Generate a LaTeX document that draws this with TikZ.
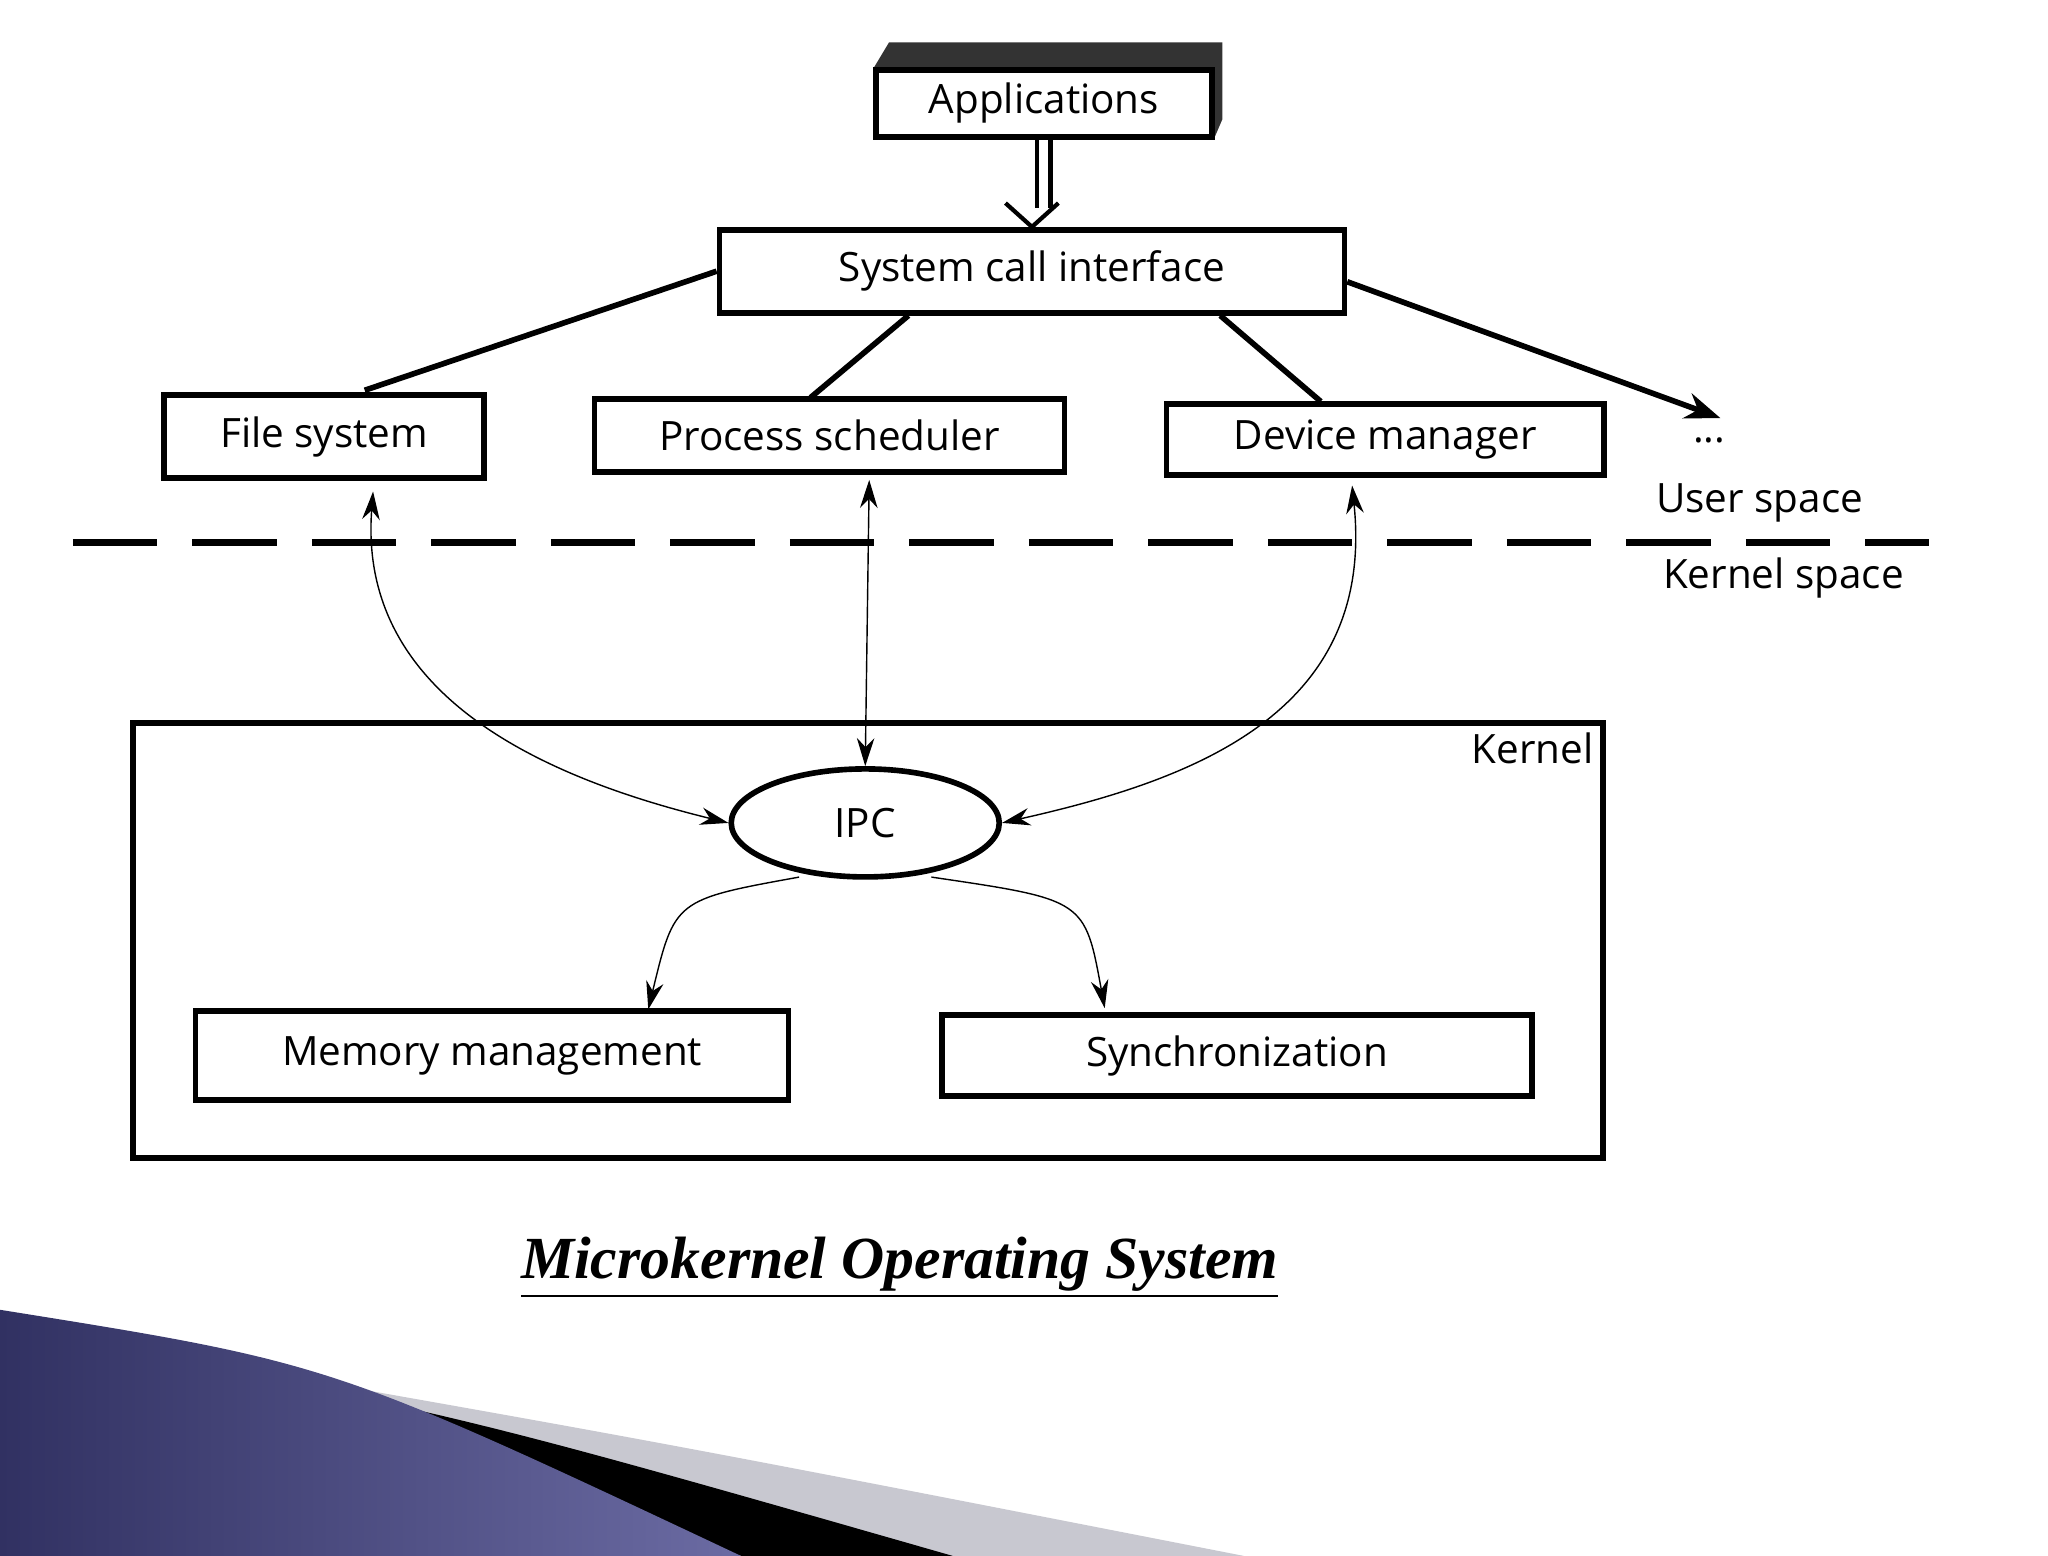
\documentclass[tikz,border=0pt]{standalone}
\usepackage{fontspec}
\setmainfont{Open Sans}
\newfontfamily\titlefont{Liberation Serif}
\usetikzlibrary{arrows.meta,shapes.geometric}
\definecolor{swooshblue}{RGB}{70,70,140}
\definecolor{swooshgray}{RGB}{200,200,208}
\begin{document}
\begin{tikzpicture}[x=0.01323cm,y=-0.01323cm,font=\fontsize{11.5}{14}\selectfont,
	box/.style={draw,line width=1.6pt,inner sep=0pt},
	link/.style={line width=1.6pt},
	ipc/.style={{Stealth[length=8pt,width=5pt]}-{Stealth[length=8pt,width=5pt]},thin}]
	\useasboundingbox (0,0) rectangle (1548,1176);
	% slide decoration
	\fill[swooshgray] (130,1025) .. controls (500,1090) .. (940,1176) -- (600,1176) -- cycle;
	\fill[black] (40,1010) .. controls (350,1070) .. (720,1176) -- (560,1176) -- cycle;
	\shade[left color=swooshblue!70!black,right color=swooshblue!80] (0,990) .. controls (250,1030) .. (560,1176) -- (0,1176) -- cycle;
	% applications
	\fill[black!80] (660,52) -- (672,32) -- (924,32) -- (924,90) -- (918,104) -- (918,52) -- cycle;
	\node[box,minimum width=3.36cm,minimum height=0.67cm] (app) at (789,78) {Applications};
	\node[box,minimum width=6.25cm,minimum height=0.83cm] (sci) at (780,205) {System call interface};
	\node[box,minimum width=3.2cm,minimum height=0.83cm] (fs) at (245,330) {File system};
	\node[box,minimum width=4.7cm,minimum height=0.73cm] (ps) at (627,329) {Process scheduler};
	\node[box,minimum width=4.37cm,minimum height=0.71cm] (dm) at (1047,332) {Device manager};
	\node (dots) at (1292,333) {...};
	\node (us) at (1330,380) {User space};
	\node (ks) at (1348,437) {Kernel space};
	\draw[line width=2pt,dash pattern=on 24pt off 10pt] (55,410) -- (1458,410);
	% kernel
	\node[box,minimum width=14.7cm,minimum height=4.35cm] (kernel) at (656,711) {};
	\node[anchor=north east] (klabel) at (kernel.north east) {Kernel};
	\node[box,ellipse,minimum width=2.68cm,minimum height=1.08cm] (ipc) at (654,622) {IPC};
	\node[box,minimum width=5.93cm,minimum height=0.89cm] (mm) at (372,798) {Memory management};
	\node[box,minimum width=5.9cm,minimum height=0.81cm] (sync) at (935,798) {Synchronization};
	% connectors
	\draw[line width=1.2pt] (app.south) ++(-5,0) -- ++(0,52) (app.south) ++(5,0) -- ++(0,52);
	\draw[line width=1.2pt] (sci.north) ++(-20,-18) -- (sci.north) -- ++(20,-18);
	\draw[link] (sci.west) -- ++(-266,90);
	\draw[link] (sci.south west) ++(145,0) -- ++(-74,62);
	\draw[link] (sci.south east) ++(-96,0) -- ++(76,65);
	\draw[link,-{Stealth[length=10pt]}] ([yshift=-3pt]sci.east) -- ++(282,103);
	\draw[ipc] (fs.south) ++(37,8) .. controls (270,530) and (420,590) .. (ipc.west);
	\draw[ipc] (ps.south) ++(30,4) -- (ipc.north);
	\draw[ipc] (dm.south) ++(-25,6) .. controls (1040,540) and (900,590) .. (ipc.east);
	\draw[thin,-{Stealth[length=8pt,width=5pt]}] (ipc.south) ++(-50,-2) .. controls (510,680) .. (490,763);
	\draw[thin,-{Stealth[length=8pt,width=5pt]}] (ipc.south) ++(50,-2) .. controls (820,680) .. (835,762);
	\node (title) at (680,958) {\titlefont\fontsize{17}{20}\selectfont\bfseries\itshape\underline{Microkernel Operating System}};
\end{tikzpicture}
\end{document}
